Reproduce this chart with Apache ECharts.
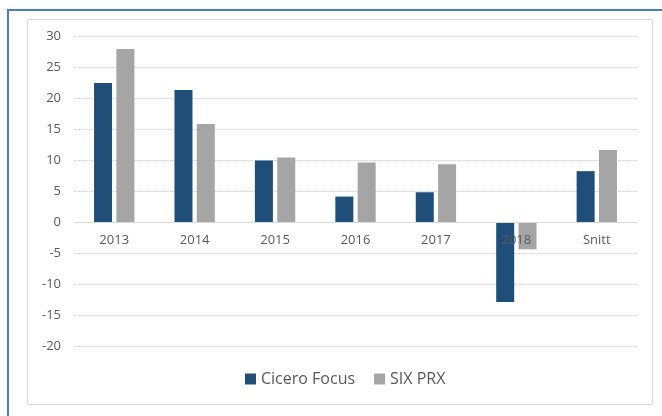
<!DOCTYPE html>
<html>
<head>
<meta charset="utf-8">
<script src="https://cdn.jsdelivr.net/npm/echarts@6/dist/echarts.min.js"></script>
<style>
  html, body { margin: 0; padding: 0; background: #fff; }
  .frame {
    position: absolute; left: 7px; top: 9px; width: 670px; height: 420px;
    border-top: 2px solid #4a7ebb; border-left: 2px solid #4a7ebb;
  }
  .box {
    position: absolute; left: 27px; top: 19px; width: 624px; height: 384px;
    border: 1px solid #d9d9d9;
  }
  #chart { position: absolute; left: 0; top: 0; width: 662px; height: 416px; }
</style>
</head>
<body>
<div class="frame"></div>
<div class="box"></div>
<div id="chart"></div>
<script>
// data
const categories = ['2013', '2014', '2015', '2016', '2017', '2018', 'Snitt']
const ciceroFocus = [22.4, 21.3, 9.9, 4.1, 4.8, -12.9, 8.2]
const sixPrx = [27.9, 15.8, 10.4, 9.6, 9.3, -4.4, 11.6]

const chart = echarts.init(document.getElementById('chart'))
chart.setOption({
  animation: false,
  textStyle: { fontFamily: 'Open Sans' },
  legend: {
    data: ['Cicero Focus', 'SIX PRX'],
    bottom: 24,
    left: 240,
    itemWidth: 11,
    itemHeight: 11,
    itemGap: 19,
    icon: 'rect',
    textStyle: { color: '#595959', fontSize: 16 },
  },
  grid: { left: 74, right: 25, top: 36, bottom: 70, containLabel: false },
  xAxis: {
    type: 'category',
    data: categories,
    // axis sits at the zero line, labels just below it (over the 2018 bars)
    offset: -124,
    axisLine: { onZero: false, lineStyle: { color: '#d9d9d9' } },
    axisTick: { show: false },
    axisLabel: { color: '#595959', fontSize: 13, margin: 12 },
    z: 10,
  },
  yAxis: {
    type: 'value',
    min: -20,
    max: 30,
    interval: 5,
    axisLine: { show: false },
    axisTick: { show: false },
    axisLabel: { color: '#595959', fontSize: 13, margin: 13 },
    splitLine: { lineStyle: { color: '#d9d9d9', type: [3, 1] } },
  },
  series: [
    {
      name: 'Cicero Focus',
      type: 'bar',
      data: ciceroFocus,
      barWidth: 18,
      barGap: '24%',
      itemStyle: { color: '#1f4e79' },
    },
    {
      name: 'SIX PRX',
      type: 'bar',
      data: sixPrx,
      barWidth: 18,
      itemStyle: { color: '#a5a5a5' },
    },
  ],
})
</script>
</body>
</html>
